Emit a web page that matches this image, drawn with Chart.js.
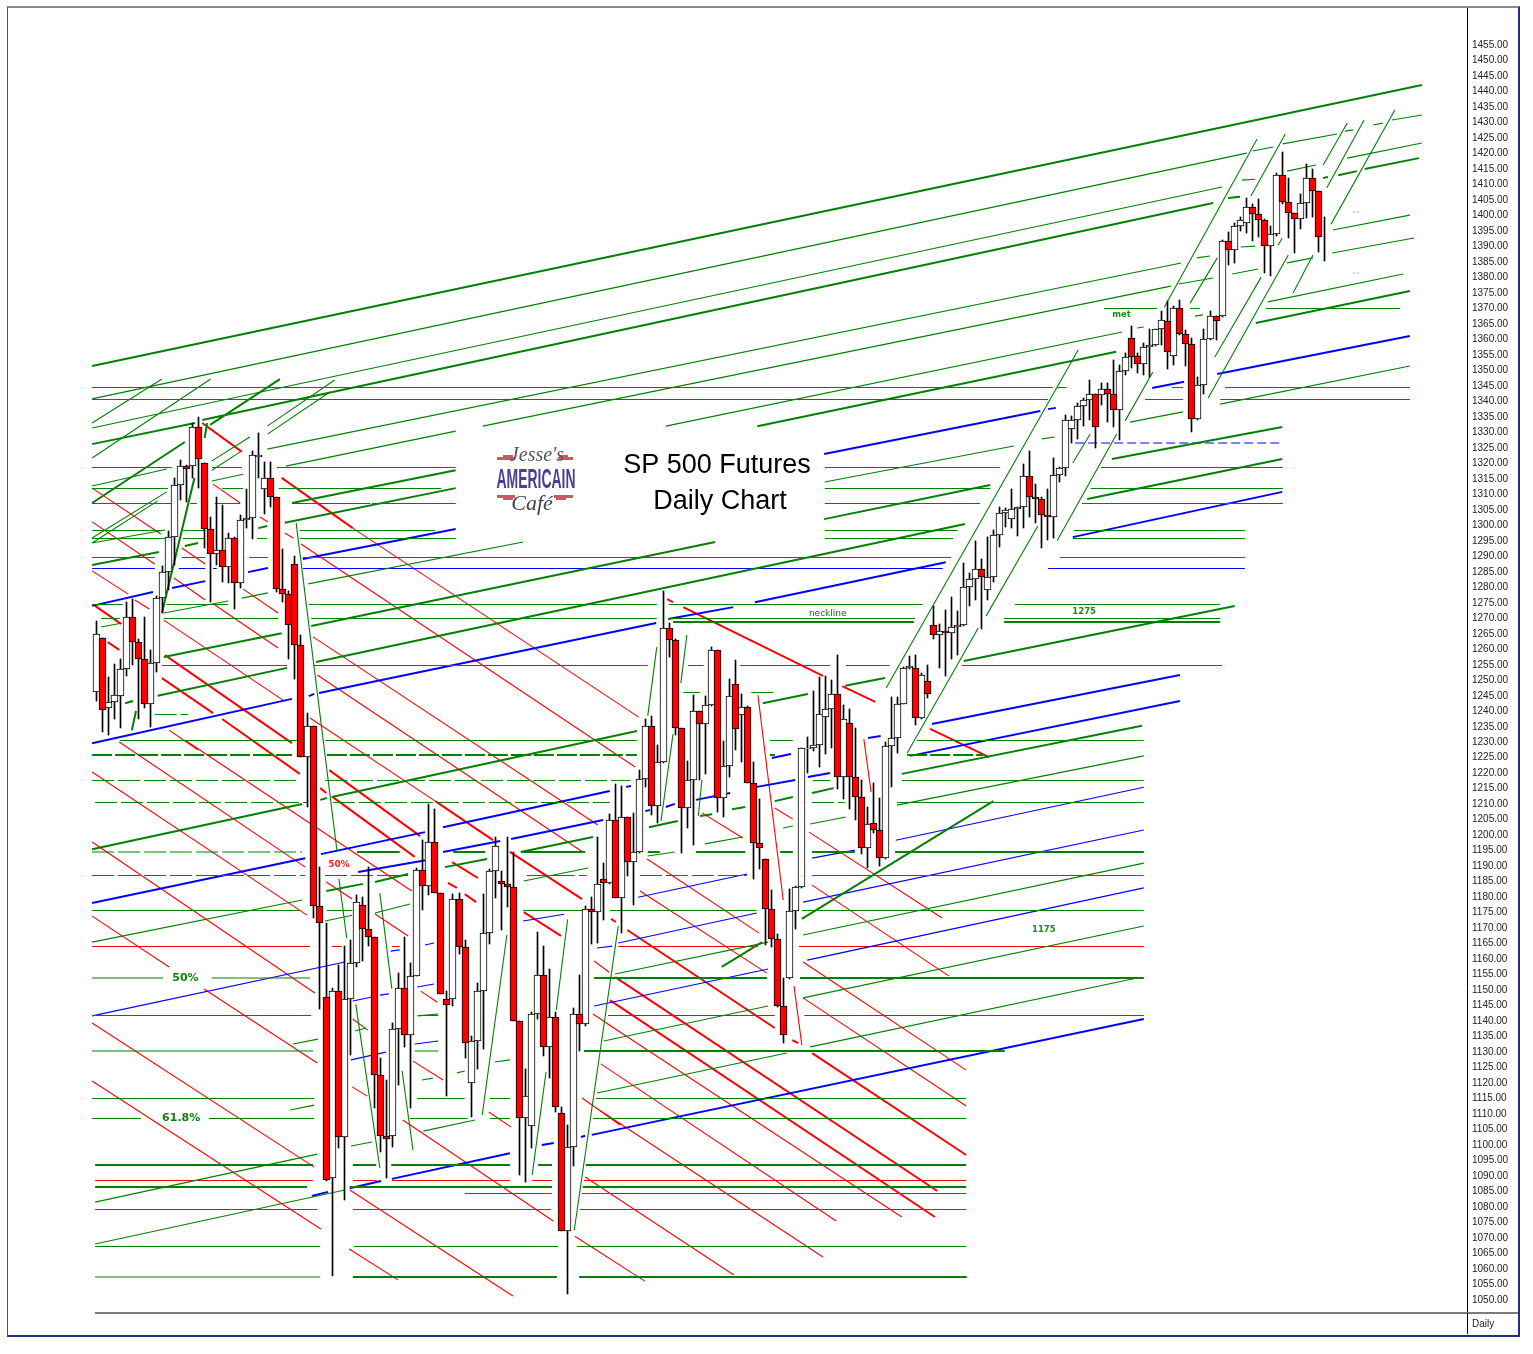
<!DOCTYPE html>
<html>
<head>
<meta charset="utf-8">
<title>SP 500 Futures Daily Chart</title>
<style>
html, body { margin: 0; padding: 0; background: #fff; }
#wrap { position: relative; width: 1533px; height: 1354px; overflow: hidden; }
#grafik { position: absolute; left: 0; top: 0; }
#bingkai { position: absolute; left: 7px; top: 6px; width: 1510px; height: 1327px; border-left: 1px solid #555; border-top: 2px solid #888; border-right: 2px solid #1c2f8c; border-bottom: 2px solid #1c2f8c; pointer-events: none; }
#garisBawah { position: absolute; left: 95px; top: 1312px; width: 1423px; height: 2px; background: #7a7a7a; pointer-events: none; }
#garisKanan { position: absolute; left: 1467px; top: 1313px; width: 1px; height: 21px; background: #000; pointer-events: none; }
</style>
<script src="https://cdn.jsdelivr.net/npm/chart.js@4"></script>
</head>
<body>
<div id="wrap">
    <canvas id="grafik" width="1533" height="1354"></canvas>
    <div id="bingkai"></div>
    <div id="garisBawah"></div>
    <div id="garisKanan"></div>
</div>
<script>
// daily candles
const candleOpen = [
    1246.3,1263.8,1240.9,1242.9,1244.8,1253.5,1270.3,1262.2,1256.8,1242.2,
    1255.5,1276.4,1284.8,1296.1,1312.9,1319.0,1319.0,1331.6,1320.0,1298.7,
    1290.6,1291.9,1286.4,1295.8,1281.3,1301.6,1302.3,1321.9,1311.6,1315.2,
    1309.0,1279.3,1278.0,1287.4,1261.3,1225.4,1235.4,1177.0,1147.9,1089.3,
    1149.6,1102.7,1147.0,1158.9,1177.4,1169.6,1167.3,1122.7,1103.0,1103.0,
    1137.5,1150.8,1135.4,1154.7,1188.9,1183.5,1197.7,1181.5,1147.3,1147.3,
    1179.3,1163.8,1120.2,1133.7,1149.6,1168.5,1188.3,1185.1,1184.1,1183.2,
    1140.2,1108.6,1106.3,1142.4,1155.0,1131.5,1141.2,1110.2,1072.4,1099.5,
    1142.2,1139.2,1176.3,1175.3,1185.8,1184.5,1204.9,1179.9,1205.8,1191.2,
    1194.5,1218,1235.1,1209.3,1223.5,1266.8,1262.9,1234.5,1208.7,1217.7,
    1240,1235.8,1241.9,1259.7,1211.9,1222.2,1248.7,1238.7,1241.3,1217,
    1197.4,1192.2,1176.1,1166.4,1144.8,1153.8,1175.7,1183.2,1227.8,1228,
    1229,1238,1240.6,1245.5,1218.7,1236.1,1218.7,1212.2,1195.8,1203.8,
    1201.6,1192.5,1228.7,1231.3,1242.5,1253.8,1253.8,1237.7,1249.7,1267.7,
    1264.5,1265.8,1265.1,1267.1,1267.7,1280,1282.6,1285.8,1279,1283.2,
    1296.8,1303.9,1302,1305.2,1305.8,1315.8,1309,1308.4,1303.2,1302.6,
    1316.1,1318.4,1331,1333.9,1338.4,1340.3,1342.3,1342,1343.9,1342.3,
    1337.1,1349.7,1360.3,1354.5,1351.9,1357.4,1358.1,1363.2,1365.8,1354.5,
    1370,1361.6,1358.4,1334.2,1345.2,1360,1367.4,1367.4,1391.6,1388.7,
    1396.5,1397.4,1402.6,1400.4,1398.4,1390,1393.9,1412.9,1404.4,1400.7,
    1398.7,1403.9,1412,1407.8,1393.1
];
const candleHigh = [
    1269.1,1263.8,1251.2,1255.1,1256.8,1275.1,1276.1,1263.3,1270.3,1259.8,
    1277.1,1287.0,1298.2,1315.2,1321.1,1319.5,1333.1,1334.8,1320.0,1302.6,
    1309.0,1306.4,1297.4,1296.3,1303.3,1311.7,1324.0,1329.8,1320.3,1320.3,
    1309.0,1292.2,1278.9,1290.0,1264.6,1239.3,1235.4,1189.8,1171.8,1150.6,
    1158.2,1164.3,1166.1,1180.7,1180.1,1189.8,1167.3,1128.2,1120.9,1139.4,
    1155.5,1167.3,1158.8,1189.4,1198.3,1210.2,1208.6,1181.5,1149.7,1181.0,
    1181.5,1166.1,1135.1,1152.4,1181.0,1189.2,1199.3,1188.6,1199.5,1194.6,
    1140.2,1124.4,1143.0,1168.9,1164.2,1156.8,1143.0,1112.4,1106.6,1144.2,
    1154.8,1177.0,1180.1,1199.5,1190.9,1207,1216.5,1216,1205.8,1207.1,
    1221,1237.4,1238.5,1229.1,1278.8,1268.6,1263.2,1234.5,1224,1245.2,
    1240,1244.9,1260.6,1259.7,1230.4,1250.4,1256.5,1245.5,1241.7,1223.7,
    1211.6,1192.2,1182.3,1168,1153.8,1182.5,1183.6,1228.2,1231.8,1246.5,
    1251,1251.4,1250.1,1258.1,1242,1240.6,1234.5,1217.8,1209,1217,
    1211.9,1230,1244.7,1244.5,1254.4,1257.8,1258.1,1252.2,1254.9,1274,
    1268,1272.7,1276.8,1272.3,1287.7,1284.5,1295,1289,1296.3,1298.5,
    1306,1305.5,1311.6,1305.8,1319.8,1323.9,1313.3,1309.2,1311.6,1321.6,
    1318.7,1335.6,1335.3,1339.5,1341,1346.9,1342.3,1346,1345.8,1353.3,
    1351.7,1355.5,1364.3,1355.5,1358.7,1363.5,1363.5,1369.2,1372.5,1370.8,
    1372.7,1363,1360.6,1348,1363.3,1369.2,1367.4,1392,1394.6,1397.4,
    1399.6,1405.6,1403.7,1405.3,1399,1396.6,1413.6,1420.4,1412,1400.7,
    1406.9,1416.5,1414.9,1407.8,1399.4
];
const candleLow = [
    1243.4,1233.4,1232.5,1237.5,1234.7,1251.5,1254.9,1237.5,1240.9,1235.0,
    1252.8,1271.6,1279.1,1287.2,1308.2,1307.6,1315.2,1311.9,1292.6,1275.4,
    1287.2,1281.6,1281.3,1272.9,1279.7,1299.0,1295.6,1315.2,1303.6,1305.8,
    1278.6,1275.4,1256.8,1250.3,1225.4,1209.2,1173.4,1143.9,1088.3,1057.6,
    1099.0,1082.3,1129.0,1157.6,1159.4,1164.3,1112.0,1097.8,1089.3,1099.3,
    1119.3,1131.7,1112.0,1154.6,1175.8,1180.7,1181.3,1148.8,1115.9,1144.8,
    1161.8,1128.2,1109.0,1124.4,1130.9,1164.9,1179.8,1169.4,1176.8,1140.2,
    1090.4,1088.0,1099.0,1140.6,1128.8,1121.8,1110.6,1072.4,1052.0,1093.2,
    1130.5,1138.5,1164.9,1165.1,1172.6,1184.2,1179.9,1168.3,1186.8,1177.5,
    1194.2,1215.7,1206.5,1204.0,1223.2,1257.4,1232.3,1194.4,1202.4,1196.8,
    1217.8,1219.7,1241.7,1207.6,1206.0,1218.9,1227.5,1223.7,1217,1185.8,
    1189,1164.6,1164,1144.5,1132.8,1153.6,1169.6,1182.9,1220,1227.2,
    1221.9,1226.2,1228.2,1214.8,1211.6,1208.3,1204.9,1193.8,1189.5,1200.8,
    1190,1192.3,1215.7,1226.4,1242.3,1253.5,1235.6,1237.5,1244.4,1263.2,
    1254,1251.5,1257,1258,1267.5,1274,1275.9,1266.4,1275.9,1281.7,
    1293.1,1299.6,1299,1296.7,1299.2,1302.8,1300.9,1292.8,1295.3,1296,
    1314.1,1316,1326.5,1328,1332,1334,1325.1,1338.8,1333.2,1331.8,
    1327.5,1348.5,1350.9,1349,1348.5,1348,1358,1358.2,1350.5,1351.7,
    1361.4,1351.4,1330.2,1334,1342.4,1359.8,1359.8,1367.3,1384,1384.8,
    1395,1394.2,1391.8,1392.9,1381.5,1380.5,1393.3,1403.6,1392.6,1387.8,
    1395.6,1399.3,1399.6,1388.3,1385.4
];
const candleClose = [
    1264.8,1240.3,1242.9,1245.4,1253.5,1270.3,1262.2,1256.8,1242.2,1255.5,
    1276.4,1284.8,1296.1,1312.9,1319.0,1318.1,1331.6,1321.3,1298.7,1290.6,
    1291.9,1286.4,1295.8,1281.3,1301.6,1302.3,1322.6,1322.6,1315.2,1309.0,
    1279.3,1277.7,1267.7,1261.3,1225.4,1235.4,1177.0,1171.8,1088.7,1149.6,
    1102.7,1147.0,1158.9,1178.6,1169.6,1167.3,1122.7,1103.0,1102.1,1137.5,
    1150.8,1135.4,1154.7,1188.9,1183.5,1197.7,1181.5,1148.8,1145.1,1179.3,
    1163.8,1133.0,1133.7,1149.6,1168.5,1188.3,1196.4,1184.1,1183.2,1140.2,
    1108.6,1115.9,1142.4,1155.0,1131.5,1141.2,1112.4,1072.4,1099.5,1142.2,
    1139.2,1176.3,1175.3,1184.4,1184.5,1204.9,1179.9,1205.8,1191.2,1194.5,
    1218,1235.1,1209.3,1223.5,1266.8,1262.9,1234.5,1208.7,1217.7,1240,
    1235.8,1241.9,1259.7,1211.9,1222.2,1244.8,1234.2,1241.3,1217,1197.4,
    1195.8,1176.1,1166.4,1144.8,1135.4,1175.7,1183.2,1228,1228,1229,
    1239,1240.6,1245.5,1218.7,1237.4,1218.7,1212.2,1195.8,1203.5,1201.6,
    1192.5,1228.7,1231.3,1242.5,1253.8,1254.5,1237.7,1251.6,1245.5,1264.5,
    1265.8,1265.1,1267.1,1267.7,1280,1282.6,1285.8,1283.2,1283.2,1296.8,
    1303.9,1304.8,1305.2,1305.8,1315.8,1309,1308.4,1303.2,1302.6,1316.1,
    1318.4,1333.9,1333.9,1338.4,1340.3,1342.3,1331.6,1343.9,1342.3,1337.1,
    1349.7,1354.2,1354.2,1351.9,1357.4,1358.1,1363.2,1366.1,1355.8,1370,
    1361.6,1358.4,1334.2,1345.2,1360,1367.4,1365.8,1391.6,1388.7,1396.5,
    1398.4,1402.6,1400.4,1398.4,1390,1393.9,1412.9,1404.4,1400.7,1398.7,
    1403.9,1412,1407.8,1393.2,1393.2
];

// price axis labels
const priceTicks = [];
for (let p = 1050; p <= 1455; p += 5) {
    priceTicks.push(p);
}

// trendlines: [bar, price, bar, price]
const thinGreenLines = [
    [-0.7,1340.8,191.1,1420.1],[192.1,1420.8,195.5,1422.1],[197.1,1423.1,206.1,1426.3],[207.4,1427.2,208.8,1427.6],[212.1,1429.2,213.7,1429.8],[215.2,1430.8,220.2,1432.4],
    [-0.7,1331.4,187.0,1409.2],[190.3,1411.4,192.5,1411.7],[197.8,1414.3,202.6,1416.3],[207.8,1418.5,220.2,1423.4],
    [-0.7,1312.7,11.7,1318.2],[28.4,1324.6,180.2,1384.65],[182.8,1386.3,185.0,1386.9],[190.1,1389.8,192.5,1390.1],[205.4,1395.3,218.2,1400.1],
    [19.2,1314.3,24.4,1316.5],[31.5,1319.1,59.7,1330.4],[64.2,1332.0,178.5,1377.2],[179.8,1377.9,185.5,1379.8],[188.7,1381.1,193.0,1382.7],[197.8,1384.7,202.1,1386.3],[205.3,1387.9,218.9,1392.7],
    [-0.7,1294.3,11.4,1298.5],[94.6,1332.0,170.4,1362.4],[172.9,1363.7,174.0,1364.0],[182.5,1367.5,183.8,1367.9],[194.6,1372.1,217.1,1381.1],
    [0.8,1267.2,4.3,1268.5],[11.2,1271.7,21.9,1275.6],[24.2,1276.5,28.5,1278.2],[35.2,1281.1,70.9,1294.6],[121.0,1314.0,152.4,1325.6],[157.1,1327.9,159.2,1328.5],[171.7,1333.3,180.5,1336.6],[186.7,1339.1,218.2,1351.4],
    [-0.7,1165.5,34.2,1179.1],
    [38.0,1172.3,42.5,1174.2],[46.3,1174.9,52.1,1177.8],[71.0,1185.2,81.7,1189.4],[91.6,1193.3,96.1,1194.6],[101.1,1197.2,107.4,1199.4],[114.1,1202.3,115.7,1203.0],[118.6,1203.6,124.5,1205.9],[133.0,1209.7,174.0,1225.6],
    [32.7,1132.6,36.8,1134.2],[43.0,1136.8,44.8,1137.8],[53.4,1141.7,56.8,1142.3],[86.2,1155.2,111.6,1165.5],[117.4,1167.8,174.0,1191.0],
    [32.2,1111.3,36.2,1112.9],[54.1,1121.0,55.9,1121.6],[59.9,1123.3,61.2,1123.9],[66.2,1126.8,68.7,1127.5],[84.3,1133.6,111.6,1144.9],[117.4,1147.5,174.0,1170.7],
    [-0.2,1081.6,36.7,1097.1],[42.3,1099.7,45.8,1101.0],[54.3,1104.5,62.9,1108.1],[83.2,1116.8,114.7,1129.7],[118.6,1131.7,172.9,1153.9],
    [-0.2,1068.1,41.3,1085.5],
    // steep channel lines
    [131.2,1247.5,163.1,1356.6],[134.7,1226.5,146.5,1266.9],[147.8,1270.7,156.4,1299.8],[159.6,1295.0,169.5,1329.5],[162.2,1320.1,165.1,1329.5],[170.9,1333.7,175.5,1349.5],
    [177.4,1370.4,192.8,1424.6],[181.7,1371.7,186.2,1386.3],[191.8,1406.3,197.5,1426.3],[185.8,1354.3,193.5,1380.1],[184.7,1341.1,198.0,1387.2],[198.8,1375.0,202.1,1387.2],[196.3,1390.4,197.0,1392.7],
    [203.8,1416.3,207.8,1429.8],[204.4,1408.9,210.6,1430.8],[205.1,1397.2,215.7,1434.0],
    [-0.7,1333.0,10.9,1347.2],[-0.7,1321.7,19.0,1347.2],[28.4,1332.0,39.6,1346.9],[28.5,1329.5,38.8,1343.0],[19.2,1320.8,25.5,1328.5],[19.2,1317.8,23.9,1323.7],[-0.7,1295.9,11.7,1310.8],[-0.7,1294.3,10.2,1307.9],
    [33.2,1300.7,40.0,1194.6],[40.3,1185.9,41.6,1166.8],[43.1,1145.5,47.1,1092.6],[47.1,1181.3,49.1,1150.4],[50.8,1123.9,52.6,1098.4],
    [68.2,1167.8,64.1,1109.7],[78.3,1172.9,76.4,1143.6],[74.7,1123.6,72.4,1090.3],[86.7,1170.7,79.4,1072.6],
    [93.1,1260.7,91.6,1238.5],[98.1,1264.6,97.1,1249.1],[95.8,1232.6,93.8,1204.6],[100.6,1217.8,100.0,1206.2]
];
const thickGreenLines = [
    [-0.7,1351.4,220.2,1442.1],
    [-0.7,1326.2,16.4,1333.0],[17.6,1334.0,185.5,1404.0],[188.0,1405.6,190.0,1406.0],[203.8,1412.1,204.6,1412.4],[206.3,1413.0,209.4,1414.3],[210.7,1415.0,219.7,1418.5],
    [-0.7,1287.2,10.4,1291.4],[14.7,1293.3,16.9,1294.3],[26.9,1299.1,28.4,1299.8],[31.3,1300.8,59.7,1312.0],[109.8,1332.0,169.4,1356.0],[192.6,1365.3,218.2,1375.6],
    [32.5,1307.2,59.7,1317.8],
    [11.2,1257.5,30.8,1265.2],[35.7,1267.5,102.8,1294.6],[120.9,1302.0,148.5,1313.0],[168.7,1321.4,197.0,1331.7],
    [4.8,1242.6,6.1,1243.3],[10.2,1245.0,31.7,1254.0],[36.5,1255.9,144.3,1300.4],[164.6,1308.5,197.0,1321.4],
    [-0.7,1195.5,34.2,1210.1],[37.2,1211.4,38.3,1212.0],[39.1,1212.3,89.8,1233.6],[110.7,1242.6,118.2,1245.6],[124.4,1248.2,131.0,1250.7],[144.1,1256.2,189.1,1274.0],
    [38.2,1182.0,44.3,1184.3],[46.3,1184.9,51.8,1187.5],[57.9,1189.7,64.9,1192.3],[70.5,1194.6,82.5,1199.4],[91.8,1202.6,96.6,1204.6],[100.3,1206.2,102.3,1206.8],[105.6,1208.4,107.8,1209.1],[112.7,1211.0,115.7,1212.3],[118.9,1213.6,122.5,1215.2],[133.8,1219.8,173.7,1235.3],
    [18.9,1332.4,30.5,1347.2],[-0.7,1307.2,14.7,1326.9],[103.9,1157.5,110.6,1165.5],[117.2,1173.0,149.0,1211.0],
    [10.9,1271.7,16.3,1315.3],[5.9,1233.9,6.6,1240.1],[18.0,1328.2,18.4,1333.0]
];
const thickBlueLines = [
    [-0.7,1274.0,9.4,1278.5],[12.6,1279.8,18.1,1282.0],[25.2,1284.9,28.5,1286.2],[34.3,1289.1,59.7,1298.8],[120.9,1323.0,156.8,1336.9],[158.1,1337.5,159.4,1337.9],[175.4,1344.3,180.7,1346.3],[186.2,1348.8,218.2,1361.1],
    [-0.7,1229.7,32.5,1244.0],[35.3,1244.9,36.2,1245.6],[37.0,1245.9,93.0,1268.5],[95.0,1269.8,105.8,1273.6],[109.4,1275.2,141.1,1288.1],[162.2,1296.2,197.0,1310.8],
    [-0.7,1178.1,34.7,1192.6],[37.3,1193.9,54.6,1201.0],[57.6,1202.6,85.3,1214.3],[88.0,1215.6,88.8,1215.9],[112.2,1224.9,115.4,1226.2],[128.2,1231.4,130.3,1232.0],[138.8,1235.9,180.0,1251.7],
    [43.5,1188.1,55.9,1192.3],[57.6,1194.6,67.1,1198.1],[68.9,1198.8,84.2,1204.9],[91.2,1207.8,92.0,1208.1],[94.6,1209.1,96.1,1210.1],[99.6,1211.4,105.3,1213.6],[108.6,1215.2,116.1,1217.8],[118.2,1218.8,121.9,1220.1],[135.2,1225.6,180.0,1243.3],
    [35.8,1083.6,38.5,1084.9],[42.1,1086.1,47.3,1088.4],[49.1,1089.1,68.7,1097.4],[74.0,1100.0,76.0,1100.7],[80.5,1102.6,81.2,1103.0],[82.3,1103.3,174.0,1140.7]
];
const thinBlueLines = [
    [-0.7,1141.7,41.3,1159.1],[48.9,1162.6,50.4,1163.0],[54.6,1164.6,56.1,1165.2],[70.9,1172.3,77.7,1174.5],[90.0,1180.0,108.1,1187.5],[118.9,1192.6,126.0,1195.2],[132.8,1198.4,174.0,1215.5],
    [42.6,1146.5,45.8,1147.8],[47.1,1148.4,48.6,1148.8],[53.3,1151.0,56.1,1152.0],[83.2,1163.6,85.7,1164.2],[86.7,1165.2,109.7,1174.9],[117.4,1178.4,174.0,1201.7],
    [42.3,1127.5,48.1,1130.0],[52.9,1132.6,56.8,1133.6],[82.7,1144.9,111.6,1156.8],[118.1,1159.7,174.0,1183.0]
];
const thinRedLines = [
    [-0.7,1312.0,10.7,1297.2],[-0.7,1301.1,9.7,1287.5],[-0.7,1285.3,5.3,1277.8],[6.4,1275.9,8.8,1273.0],[11.2,1269.4,31.0,1243.6],[12.9,1283.0,18.1,1275.9],[19.7,1274.3,30.2,1260.4],
    [14.2,1292.7,18.1,1287.5],[24.4,1279.4,30.2,1271.7],[19.4,1313.3,23.9,1307.2],[27.2,1302.7,28.5,1301.1],[31.3,1297.5,32.7,1295.9],
    [42.6,1299.1,90.1,1238.1],[34.0,1294.0,89.5,1222.0],[36.0,1264.0,83.3,1203.3],[36.7,1251.7,80.8,1194.6],[35.5,1237.8,56.3,1211.0],[12.1,1233.9,16.9,1227.5],
    [3.8,1230.1,34.7,1189.7],[14.7,1230.7,52.4,1182.0],[-0.7,1220.4,35.0,1174.2],[-0.7,1197.8,36.3,1149.1],[-0.7,1173.9,12.1,1157.5],[17.9,1150.4,36.7,1126.5],[-0.7,1139.4,36.2,1092.9],[-0.7,1120.7,37.3,1072.9],
    [38.2,1184.9,42.5,1179.4],[46.3,1174.6,51.8,1167.5],[42.6,1140.7,45.1,1137.1],[42.5,1118.8,45.0,1115.8],[52.6,1127.1,57.6,1121.0],[53.9,1149.7,56.6,1146.2],[65.2,1110.7,68.9,1105.8],
    [50.9,1108.1,75.9,1075.5],[42.1,1085.5,69.2,1051.3],[42.0,1066.5,50.1,1056.5],[79.5,1070.6,91.1,1056.1],[80.7,1115.2,87.0,1106.5],[82.7,1159.4,85.2,1155.8],[82.5,1142.3,87.0,1136.5],
    [100.6,1207.2,107.4,1199.1],[112.7,1208.8,115.7,1205.2],[91.5,1192.3,110.1,1168.4],[90.3,1182.0,111.4,1155.5],[84.7,1139.4,133.8,1076.8],[83.8,1126.2,122.9,1075.5],[82.8,1112.3,120.7,1063.9],[81.2,1089.7,105.9,1058.1],
    [118.4,1201.0,140.5,1173.3],[118.9,1183.9,141.6,1154.6],[117.4,1159.1,144.5,1124.2],[117.4,1147.5,144.5,1112.6],
    [109.9,1245.2,114.1,1179.1],[127.5,1231.0,128.7,1213.9],[115.9,1151.3,117.2,1132.3]
];
const thickRedLines = [
    [17.6,1333.0,24.2,1323.7],[30.8,1315.3,42.6,1299.1],[-0.2,1274.0,4.1,1268.2],[1.9,1262.3,3.8,1259.8],[11.4,1258.1,32.5,1229.7],[38.7,1221.0,53.8,1199.7],[10.9,1250.7,19.4,1239.4],[20.9,1237.5,33.8,1219.8],[37.2,1215.2,38.2,1213.6],[39.3,1212.3,52.9,1193.0],
    [56.3,1211.0,65.9,1198.4],[68.7,1194.6,80.7,1179.4],[59.1,1191.3,63.4,1186.2],[58.4,1184.6,59.9,1183.0],[61.2,1181.0,63.1,1178.4],[71.0,1175.2,77.2,1167.5],[85.5,1173.0,86.3,1172.0],
    [88.2,1169.4,112.7,1137.8],[118.9,1129.7,144.5,1096.8],[85.3,1146.8,139.3,1076.8],[86.2,1154.2,139.7,1085.2],[97.5,1273.6,120.7,1251.4],[94.8,1276.2,95.8,1275.2],[123.9,1248.1,129.4,1243.0],[138.5,1234.3,148.3,1225.2],[115.6,1133.9,116.6,1132.9]
];

// horizontal levels: [price, [bar from, bar to, bar from, bar to, ...]]
const thinGreenLevels = [
    [1369.97,[167.4,176.2,181.7,183.3,194.3,216.6]],
    [1344.48,[-0.7,158.9,159.7,161.2,178.7,180.5,187.5,218.2]],
    [1340.60,[-0.7,158.1,174.2,180.5,186.7,218.2]],
    [1318.66,[-0.7,12.6,19.2,24.2,30.0,59.7,121.0,150.1,166.9,197.1]],
    [1311.88,[-0.7,11.9,20.9,24.4,30.3,57.3,121.0,148.5,165.2,197.1]],
    [1307.04,[-0.7,12.6,15.6,16.7,19.7,23.9,32.5,45.5,45.8,59.7,121.0,146.8,163.7,197.1]],
    [1298.33,[-0.7,11.4,14.4,18.1,33.8,56.3,121.0,143.1,162.4,190.8]],
    [1295.75,[-0.7,11.4,14.4,18.1,26.7,28.4,33.8,59.7,121.0,142.3,162.2,190.8]],
    [1289.62,[-0.7,9.7,14.2,18.1,25.4,28.5,34.3,142.0,160.1,190.8]],
    [1274.45,[-0.7,4.4,11.7,21.9,35.3,93.1,95.1,137.3,152.6,186.7]],
    [1269.93,[0.8,3.9,11.2,30.2,35.7,93.1,95.0,136.0,150.8,186.7]],
    [1254.76,[10.9,31.7,36.0,91.6,98.3,100.9,106.9,121.9,124.5,131.8,143.8,187.0]],
    [1230.56,[3.9,33.3,38.0,89.8,111.9,115.7,136.3,174.0]],
    [1217.65,[133.8,174.0]],
    [1210.55,[133.0,174.0]],
    [1187.0,[118.9,174.0]],
    [1175.7,[-0.7,33.8,38.3,42.5,70.9,81.5,85.3,109.7,117.2,174.0]],
    [1153.92,[-0.7,11.1,19.2,35.5]],
    [1141.82,[-0.7,35.7,53.4,56.8,85.0,112.7,117.6,174.0]],
    [1130.36,[-0.7,36.0,52.9,56.8]],
    [1115.04,[-0.7,36.2,53.3,61.2,65.4,68.7,83.0,144.5]],
    [1108.58,[-0.7,7.4,18.7,36.2,52.1,61.7,65.4,68.7,82.5,144.5]],
    [1084.38,[61.2,75.7,80.7,144.5]],
    [1079.22,[-0.2,36.7,42.6,75.5,80.3,144.5]],
    [1067.28,[-0.2,37.2,42.8,76.7,79.8,144.5]],
    [1057.43,[-0.2,37.2]]
];
const thickGreenLevels = [
    [1268.80,[95.8,135.8,150.8,186.7]],
    [1194.58,[43.3,50.4,59.3,64.6,70.7,81.2,91.6,93.6,99.6,107.8,113.6,115.7,118.9,126.0,132.7,174.0]],
    [1153.92,[82.7,111.4,116.9,174.0]],
    [1130.36,[81.0,150.9]],
    [1093.58,[-0.2,36.0,42.6,46.5,49.0,68.7,73.4,75.7,81.3,144.5]],
    [1086.48,[-0.2,35.0,42.1,75.7,80.8,144.5]],
    [1057.43,[42.6,76.5,80.2,144.6]]
];
const dashedGreenLevels = [
    [1217.65,[-0.7,33.2,38.0,88.7,119.0,121.9]],
    [1210.55,[-0.2,35.0,39.3,85.3,118.9,124.4]],
    [1194.58,[-0.7,34.2]],
    [1187.0,[-0.7,34.7,38.0,51.8,71.5,81.5,90.3,108.1]],
    [1246.05,[97.5,100.3,108.8,113.1]],
    [1238.95,[9.7,15.2]]
];
const dashedThickGreenLevels = [
    [1225.88,[-0.7,32.5,38.3,89.8,111.9,112.7,134.7,147.3]]
];
const thinBlueLevels = [
    [1286.07,[-0.7,9.7,13.7,18.1,19.4,20.0,34.3,140.6,158.1,190.8]]
];
const dashedBlueLevels = [
    [1326.56,[162.6,197.0]]
];
const thinRedLevels = [
    [1164.09,[-0.7,35.5,39.1,40.8,49.1,50.4,86.7,109.9,116.7,174.0]],
    [1088.57,[-0.2,36.0,42.6,46.6,49.1,68.7,72.4,75.7,81.0,144.5]]
];
const grayDashLevels = [
    [1401.1,[208.7,210.1]],
    [1381.4,[208.7,210.1]]
];

// notes on the chart: [text, bar, price, font, colour]
const chartNotes = [
    ['neckline', 121.5, 1271.4, '9px "DejaVu Sans"', '#008000'],
    ['1275', 164.1, 1272.2, 'bold 8.5px "DejaVu Sans"', '#1a8a1a'],
    ['1175', 157.4, 1169.5, 'bold 8.5px "DejaVu Sans"', '#1a8a1a'],
    ['met', 170.3, 1367.9, 'bold 8.5px "DejaVu Sans"', '#1a8a1a'],
    ['50%', 14.8, 1153.9, 'bold 11px "DejaVu Sans"', '#108010'],
    ['61.8%', 14.1, 1108.7, 'bold 11px "DejaVu Sans"', '#108010'],
    ['50%', 40.3, 1190.4, 'bold 9px "DejaVu Sans"', '#ff2020']
];

// where the candles sit a little right of an even spacing: [from bar, extra]
const barShifts = [[38, 0.25], [100, 0.15], [125, 0.05], [150, 0]];

function diagToPoints(lines) {
    let hasil = [];
    lines.forEach(function (l) {
        hasil.push({x: l[0], y: l[1]}, {x: l[2], y: l[3]}, {x: l[2], y: NaN});
    });
    return hasil;
}

function levelToPoints(levels) {
    let hasil = [];
    levels.forEach(function (lv) {
        for (let i = 0; i < lv[1].length; i += 2) {
            hasil.push({x: lv[1][i], y: lv[0]}, {x: lv[1][i + 1], y: lv[0]}, {x: lv[1][i + 1], y: NaN});
        }
    });
    return hasil;
}

function lineSet(data, warna, tebal, dash) {
    return {
        type: 'line',
        data: data,
        borderColor: warna,
        borderWidth: tebal,
        borderDash: dash || [],
        pointRadius: 0,
        tension: 0,
        spanGaps: false,
        order: 10
    };
}

function barPos(i) {
    let tambah = 0;
    barShifts.forEach(function (s) {
        if (i >= s[0]) {
            tambah = s[1];
        }
    });
    return i + tambah;
}

const wickData = [], upData = [], downData = [];
candleOpen.forEach(function (o, i) {
    wickData.push({x: barPos(i), y: [candleLow[i], candleHigh[i]]});
    if (candleClose[i] >= o) {
        upData.push({x: barPos(i), y: [o, candleClose[i]]});
    } else {
        downData.push({x: barPos(i), y: [o, candleClose[i]]});
    }
});

const GREEN = '#008000', BLUE = '#0000ff', RED = '#ff0000';

// keep candle edges on whole pixels so the outlines stay crisp
const snapPlugin = {
    id: 'snapCandle',
    afterDatasetsUpdate: function (chart) {
        chart.data.datasets.forEach(function (ds, idx) {
            if (ds.type === 'line') {
                return;
            }
            chart.getDatasetMeta(idx).data.forEach(function (el) {
                el.x = Math.floor(el.x) + 0.5;
                el.y = Math.round(el.y);
                el.base = Math.round(el.base);
            });
        });
    }
};

// title, logo and frame text
const notesPlugin = {
    id: 'catatan',
    afterDraw: function (chart) {
        let ctx = chart.ctx;
        ctx.save();
        ctx.textBaseline = 'middle';
        ctx.textAlign = 'center';
        chartNotes.forEach(function (n) {
            ctx.font = n[3];
            ctx.fillStyle = n[4];
            ctx.fillText(n[0], chart.scales.x.getPixelForValue(n[1]), chart.scales.y.getPixelForValue(n[2]));
        });

        ctx.textBaseline = 'alphabetic';
        ctx.fillStyle = '#000';
        ctx.font = '27px "Liberation Sans"';
        ctx.fillText('SP 500 Futures', 717, 473);
        ctx.fillText('Daily Chart', 720, 509);

        // logo
        ctx.fillStyle = '#c85a60';
        ctx.fillRect(497, 457, 18, 3);
        ctx.fillRect(503, 455, 10, 2);
        ctx.fillRect(558, 457, 15, 3);
        ctx.fillRect(559, 455, 9, 2);
        ctx.fillRect(497, 495, 18, 3);
        ctx.fillRect(503, 498, 10, 2);
        ctx.fillRect(554, 495, 19, 3);
        ctx.fillRect(556, 498, 10, 2);
        ctx.fillStyle = '#555';
        ctx.font = 'italic 20px "Liberation Serif"';
        ctx.fillText("Jesse's", 537, 461);
        ctx.fillStyle = '#4a3f95';
        ctx.font = 'bold 27px "Liberation Sans"';
        ctx.fillText('AMERICAIN', 536, 488, 79);
        ctx.fillStyle = '#444';
        ctx.font = 'italic 22px "Liberation Serif"';
        ctx.fillText('Café', 532, 510);

        ctx.textAlign = 'left';
        ctx.textBaseline = 'middle';
        ctx.fillStyle = '#222';
        ctx.font = '10px "Liberation Sans"';
        ctx.fillText('Daily', 1472, 1324);
        ctx.restore();
    }
};

new Chart(document.getElementById('grafik'), {
    type: 'bar',
    plugins: [snapPlugin, notesPlugin],
    data: {
        datasets: [
            lineSet(diagToPoints(thinGreenLines).concat(levelToPoints(thinGreenLevels)), GREEN, 1.1),
            lineSet(diagToPoints(thickGreenLines).concat(levelToPoints(thickGreenLevels)), GREEN, 2),
            lineSet(levelToPoints(dashedGreenLevels), GREEN, 1, [22, 4]),
            lineSet(levelToPoints(dashedThickGreenLevels), GREEN, 2, [20, 3]),
            lineSet(diagToPoints(thinBlueLines).concat(levelToPoints(thinBlueLevels)), BLUE, 1.1),
            lineSet(diagToPoints(thickBlueLines), BLUE, 2),
            lineSet(levelToPoints(dashedBlueLevels), BLUE, 1, [9, 4]),
            lineSet(diagToPoints(thinRedLines).concat(levelToPoints(thinRedLevels)), RED, 1.1),
            lineSet(diagToPoints(thickRedLines), RED, 2),
            lineSet(levelToPoints(grayDashLevels), '#bbbbbb', 1, [3, 1]),
            {
                data: wickData,
                backgroundColor: '#000',
                borderWidth: 0,
                barThickness: 1,
                grouped: false,
                order: 3
            },
            {
                data: upData,
                backgroundColor: '#fff',
                borderColor: '#000',
                borderWidth: 1,
                borderSkipped: false,
                barThickness: 7,
                grouped: false,
                order: 2
            },
            {
                data: downData,
                backgroundColor: RED,
                borderColor: '#000',
                borderWidth: 1,
                borderSkipped: false,
                barThickness: 7,
                grouped: false,
                order: 1
            }
        ]
    },
    options: {
        responsive: false,
        animation: false,
        layout: {
            padding: {left: 8, right: 15, top: 8, bottom: 41}
        },
        plugins: {
            legend: {display: false},
            title: {display: false},
            tooltip: {enabled: false}
        },
        scales: {
            x: {
                type: 'linear',
                display: false,
                offset: false,
                min: -14.67,
                max: 227.69
            },
            y: {
                type: 'linear',
                position: 'right',
                min: 1045.82,
                max: 1466.94,
                beginAtZero: false,
                grid: {display: false, drawTicks: false},
                border: {display: true, color: '#000', width: 1},
                afterBuildTicks: function (axis) {
                    axis.ticks = priceTicks.map(function (p) {
                        return {value: p};
                    });
                },
                afterFit: function (axis) {
                    axis.width = 51;
                    axis.paddingTop = 0;
                    axis.paddingBottom = 0;
                },
                ticks: {
                    autoSkip: false,
                    padding: 5,
                    crossAlign: 'near',
                    color: '#222',
                    font: {family: '"Liberation Sans"', size: 10},
                    callback: function (value) {
                        return Number(value).toFixed(2);
                    }
                }
            }
        }
    }
});
</script>
</body>
</html>
